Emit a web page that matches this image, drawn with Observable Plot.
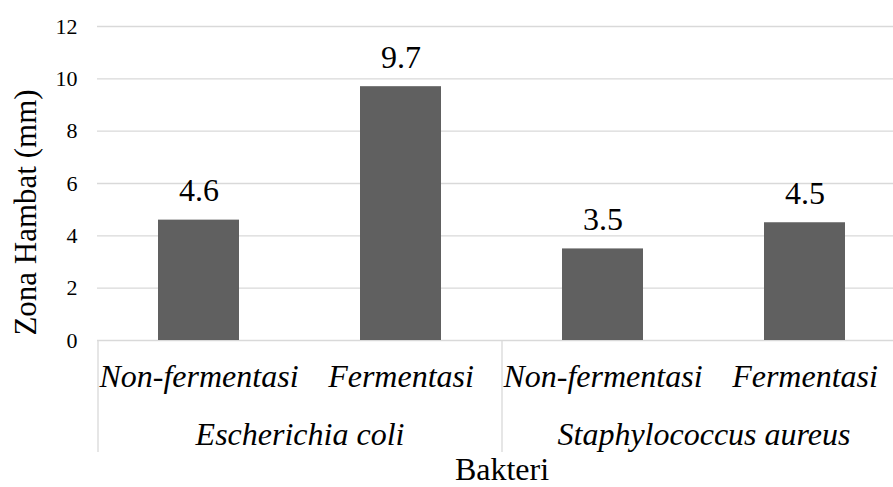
<!DOCTYPE html>
<html>
<head>
<meta charset="utf-8">
<script src="https://cdn.jsdelivr.net/npm/d3@7"></script>
<script src="https://cdn.jsdelivr.net/npm/@observablehq/plot@0.6"></script>
<style>
  html, body { margin: 0; padding: 0; background: #fff; overflow: hidden; }
  #chart svg, #chart svg text { font-family: "Liberation Serif", "Times New Roman", serif; }
</style>
</head>
<body>
<div id="chart"></div>
<script>
// Inhibition zone (mm) per bacterium and treatment
const bacteria = ["Escherichia coli", "Escherichia coli", "Staphylococcus aureus", "Staphylococcus aureus"];
const treatments = ["Non-fermentasi", "Fermentasi", "Non-fermentasi", "Fermentasi"];
const zones = [4.6, 9.7, 3.5, 4.5];
const groups = ["Escherichia coli", "Staphylococcus aureus"];
const yTicks = [0, 2, 4, 6, 8, 10, 12];

const rows = bacteria.map((b, i) => ({
  key: `${b}|${treatments[i]}`,
  bacterium: b,
  treatment: treatments[i],
  zone: zones[i]
}));
const keys = rows.map(d => d.key);

const W = 893, H = 487;
const mLeft = 97, mTop = 26, mBottom = 147;
const xOpts = {type: "band", domain: keys, range: [mLeft, 905], paddingInner: 0.6, paddingOuter: 0.3};
const step = Plot.scale({x: xOpts}).step;

// first and last band key of each group
const firstOfGroup = groups.map(g => keys.find(k => k.startsWith(g + "|")));
const lastOfGroup = groups.map(g => keys.filter(k => k.startsWith(g + "|")).pop());

const serif = "'Liberation Serif', 'Times New Roman', serif";
const font = {fontFamily: serif, fill: "#000"};
const below = {frameAnchor: "bottom", lineAnchor: "middle", fontSize: 32, ...font};
const sepStyle = {y1: 0, y2: 0, insetBottom: -112, stroke: "#d9d9d9", strokeWidth: 1.3};

const chart = Plot.plot({
  width: W,
  height: H,
  marginLeft: mLeft,
  marginRight: 0,
  marginTop: mTop,
  marginBottom: mBottom,
  style: {fontFamily: serif, background: "#fff", overflow: "hidden"},
  x: {...xOpts, axis: null},
  y: {domain: [0, 12], axis: null},
  marks: [
    // horizontal gridlines (incl. baseline)
    Plot.ruleY(yTicks, {stroke: "#d9d9d9", strokeWidth: 1.3}),
    // bars
    Plot.barY(rows, {x: "key", y: "zone", fill: "#606060"}),
    // value labels
    Plot.text(rows, {x: "key", y: "zone", text: d => d.zone.toFixed(1), dy: -29, fontSize: 32, ...font}),
    // y tick labels
    Plot.axisY(yTicks, {tickSize: 0, tickPadding: 20, fontSize: 22, label: null, tickFormat: d => d, ...font}),
    // category boundary rules below the axis
    Plot.ruleX([keys[0]], {x: d => d, dx: -step / 2, ...sepStyle}),
    Plot.ruleX(lastOfGroup, {x: d => d, dx: step / 2, ...sepStyle}),
    // treatment labels
    Plot.text(rows, {x: "key", text: "treatment", dy: 36, fontStyle: "italic", ...below}),
    // bacterium group labels
    Plot.text(firstOfGroup, {x: d => d, text: d => d.split("|")[0], dx: step / 2, dy: 94, fontStyle: "italic", ...below}),
    // x axis title
    Plot.text(["Bakteri"], {x: () => lastOfGroup[0], text: d => d, dx: step / 2, dy: 129, ...below}),
    // y axis title
    Plot.text(["Zona Hambat (mm)"], {text: d => d, frameAnchor: "left", textAnchor: "middle", rotate: -90, dx: -71, dy: 29, fontSize: 31, ...font})
  ]
});

document.getElementById("chart").appendChild(chart);
</script>
</body>
</html>
